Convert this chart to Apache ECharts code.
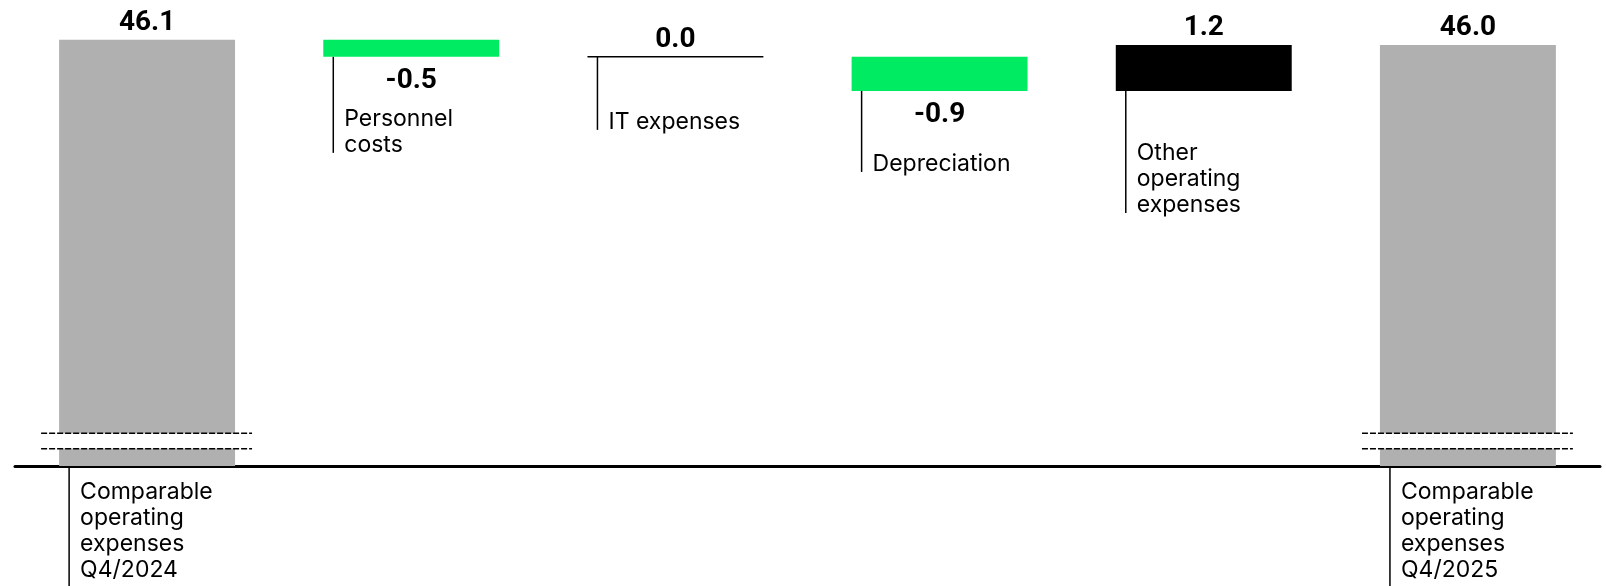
<!DOCTYPE html>
<html>
<head>
<meta charset="utf-8">
<script src="https://cdn.jsdelivr.net/npm/echarts@6/dist/echarts.min.js"></script>
<style>
  html, body { margin: 0; padding: 0; background: #ffffff; }
  #chart { width: 1606px; height: 586px; }
</style>
</head>
<body>
<div id="chart"></div>
<script>
// ---- data ----
const categories = [
  'Comparable\noperating\nexpenses\nQ4/2024',
  'Personnel\ncosts',
  'IT expenses',
  'Depreciation',
  'Other\noperating\nexpenses',
  'Comparable\noperating\nexpenses\nQ4/2025'
];
const values = [46.14, -0.46, 0.00, -0.92, 1.24, 46.00];
const isTotal = [true, false, false, false, false, true];

// ---- layout (not data) ----
const leaderLen = [125, 96, 73, 81, 122, 125];
const textEnd = [110, 96, 73, 81, 122, 110];
const BAR_RATIO = 0.666;
const COLOR_TOTAL = '#b0b0b0';
const COLOR_NEG = '#00eb62';
const COLOR_POS = '#000000';

// ---- waterfall computation ----
const baseVals = [], barVals = [], rows = [];
let running = 0;
values.forEach((v, i) => {
  let low, high;
  if (isTotal[i]) {
    low = 0; high = v; running = v;
  } else {
    const after = running + v;
    low = Math.min(running, after); high = Math.max(running, after);
    running = after;
  }
  baseVals.push(low);
  const color = isTotal[i] ? COLOR_TOTAL : (v < 0 ? COLOR_NEG : COLOR_POS);
  barVals.push({
    value: high - low,
    itemStyle: { color: color },
    label: { position: (!isTotal[i] && v < 0) ? 'bottom' : 'top',
             distance: (!isTotal[i] && v < 0) ? 10 : 3 }
  });
  rows.push([i, low, high, v]);
});

const chart = echarts.init(document.getElementById('chart'), null, { renderer: 'canvas' });

function renderDecor(params, api) {
  const i = api.value(0);
  const low = api.value(1), high = api.value(2), v = api.value(3);
  const cs = params.coordSys;
  const gridBottom = cs.y + cs.height;
  const center = api.coord([i, high]);
  const bw = api.size([1, 0])[0] * BAR_RATIO;
  const left = center[0] - bw / 2, right = center[0] + bw / 2;
  let bottom = Math.min(api.coord([i, low])[1], gridBottom);
  const children = [];

  if (isTotal[i]) {
    // axis break marks
    children.push({ type: 'rect', shape: { x: left - 1, y: gridBottom - 32.5, width: bw + 2, height: 15 },
      style: { fill: '#ffffff' } });
    [gridBottom - 32.7, gridBottom - 17.3].forEach(yy => {
      children.push({ type: 'line', shape: { x1: left - 18, y1: yy, x2: right + 17, y2: yy },
        style: { stroke: '#000', lineWidth: 1.4, lineDash: [6, 2] } });
    });
    bottom = gridBottom + 1.5;
  } else if (v === 0) {
    children.push({ type: 'line', shape: { x1: left, y1: bottom, x2: right, y2: bottom },
      style: { stroke: '#000', lineWidth: 1.5 } });
  }
  const lx = left + 10;
  children.push({ type: 'line', shape: { x1: lx, y1: bottom, x2: lx, y2: bottom + leaderLen[i] },
    style: { stroke: '#000', lineWidth: 1.5 } });
  children.push({ type: 'text', x: left + 21, y: bottom + textEnd[i] + 5,
    style: { text: categories[i], fill: '#000', font: '23px Inter', lineHeight: 25.8,
             align: 'left', verticalAlign: 'bottom' } });
  return { type: 'group', children: children };
}

chart.setOption({
  animation: false,
  backgroundColor: '#ffffff',
  grid: { left: 15, right: 6, top: 8, bottom: 120, containLabel: false },
  xAxis: {
    type: 'category', data: categories,
    axisLine: { show: true, onZero: false, lineStyle: { color: '#000', width: 3 } },
    axisTick: { show: false }, axisLabel: { show: false }, splitLine: { show: false }
  },
  yAxis: {
    type: 'value', min: 34.63, max: 47, show: false, splitLine: { show: false }
  },
  series: [
    { name: 'base', type: 'bar', stack: 'wf', data: baseVals, barWidth: '66.6%',
      itemStyle: { color: 'transparent' }, silent: true, z: 1 },
    { name: 'change', type: 'bar', stack: 'wf', data: barVals, barWidth: '66.6%', z: 2,
      label: { show: true, color: '#000', fontFamily: 'Roboto', fontWeight: 'bold', fontSize: 28,
        formatter: p => values[p.dataIndex].toFixed(1) } },
    { name: 'decor', type: 'custom', data: rows, renderItem: renderDecor, z: 5, clip: false,
      encode: { x: 0, y: 2 }, silent: true }
  ]
});
</script>
</body>
</html>
